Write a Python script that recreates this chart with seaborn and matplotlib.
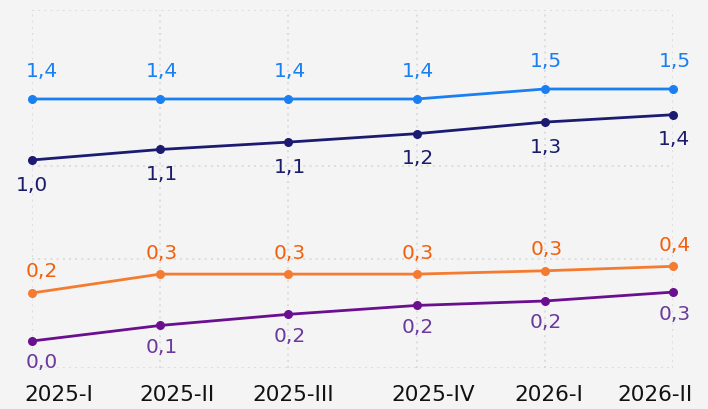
import matplotlib
matplotlib.use("Agg")
import matplotlib.pyplot as plt
import matplotlib.transforms as mtransforms
import seaborn as sns
import pandas as pd

# ---- data ----
periodos = ["2025-I", "2025-II", "2025-III", "2025-IV", "2026-I", "2026-II"]
serie_azul = [1.42, 1.42, 1.42, 1.42, 1.47, 1.47]
serie_marino = [0.96, 1.06, 1.13, 1.21, 1.32, 1.39]
serie_naranja = [0.24, 0.325, 0.325, 0.325, 0.34, 0.36]
serie_morada = [0.04, 0.11, 0.16, 0.20, 0.22, 0.26]

BG = "#f4f4f4"
sns.set_style("white")
plt.rcParams["font.family"] = ["DejaVu Sans"]

fig = plt.figure(figsize=(7.08, 4.09), dpi=100, facecolor=BG)
W, H = 708, 409
left, right, top, bottom = 32, 673, 10, 368
ax = fig.add_axes([left / W, 1 - bottom / H, (right - left) / W, (bottom - top) / H])
ax.set_facecolor(BG)

# each series has its own vertical scale (separate hidden y axes)
series = [
    # values, line colour, text colour, ylim, label baseline offset (pt), first-label x shift (pt)
    (serie_azul, "#1a7ff0", "#1a7ff0", (0.075, 1.865), 15.5, 7),
    (serie_marino, "#1b1b72", "#1b1b6c", (-1.016, 2.385), -22.0, 0),
    (serie_naranja, "#f47b30", "#f2600e", (-0.0975, 1.5135), 11.2, 7),
    (serie_morada, "#690f8f", "#6a3a9c", (-0.0815, 1.5295), -19.8, 7),
]

for i, (vals, lc, tc, ylim, dy, dx0) in enumerate(series):
    a = ax.twinx()
    a.set_ylim(*ylim)
    a.set_yticks([])
    for s in a.spines.values():
        s.set_visible(False)
    df = pd.DataFrame({"periodo": periodos, "valor": vals})
    sns.lineplot(data=df, x="periodo", y="valor", ax=a, color=lc, lw=2.0,
                 marker="o", markersize=6.5, markeredgewidth=0, sort=False,
                 clip_on=False)
    a.set_xlabel("")
    a.set_ylabel("")
    for j, (p, v) in enumerate(zip(periodos, vals)):
        txt = f"{v:.1f}".replace(".", ",")
        a.annotate(txt, (j, v), xytext=(dx0 if j == 0 else 1, dy),
                   textcoords="offset points", ha="center", va="baseline",
                   fontsize=14.5, color=tc, annotation_clip=False)

ax.set_xlim(0, len(periodos) - 1)
ax.set_ylim(0, 1)
ax.set_xticks(range(len(periodos)))
ax.set_xticklabels([])
ax.set_yticks([0, 109 / 358, 202 / 358, 1])
ax.set_yticklabels([])
ax.tick_params(axis="both", length=0)
ax.grid(True, color="#d9d9d9", linestyle=(0, (1.2, 2.5)), linewidth=1.2)
for s in ax.spines.values():
    s.set_visible(False)
for t in fig.axes[1:]:
    t.set_xlim(0, len(periodos) - 1)

# category labels, kept inside the figure like the reference
shift_px = [27, 17, 5, 17, 4, -18]
for j, (p, sx) in enumerate(zip(periodos, shift_px)):
    tr = ax.get_xaxis_transform() + mtransforms.ScaledTranslation(
        sx / 100, -17 / 100, fig.dpi_scale_trans)
    ax.text(j, 0, p, transform=tr, ha="center", va="top",
            fontsize=15.5, color="#111111", clip_on=False)

fig.savefig("out.png", dpi=100, facecolor=BG)
